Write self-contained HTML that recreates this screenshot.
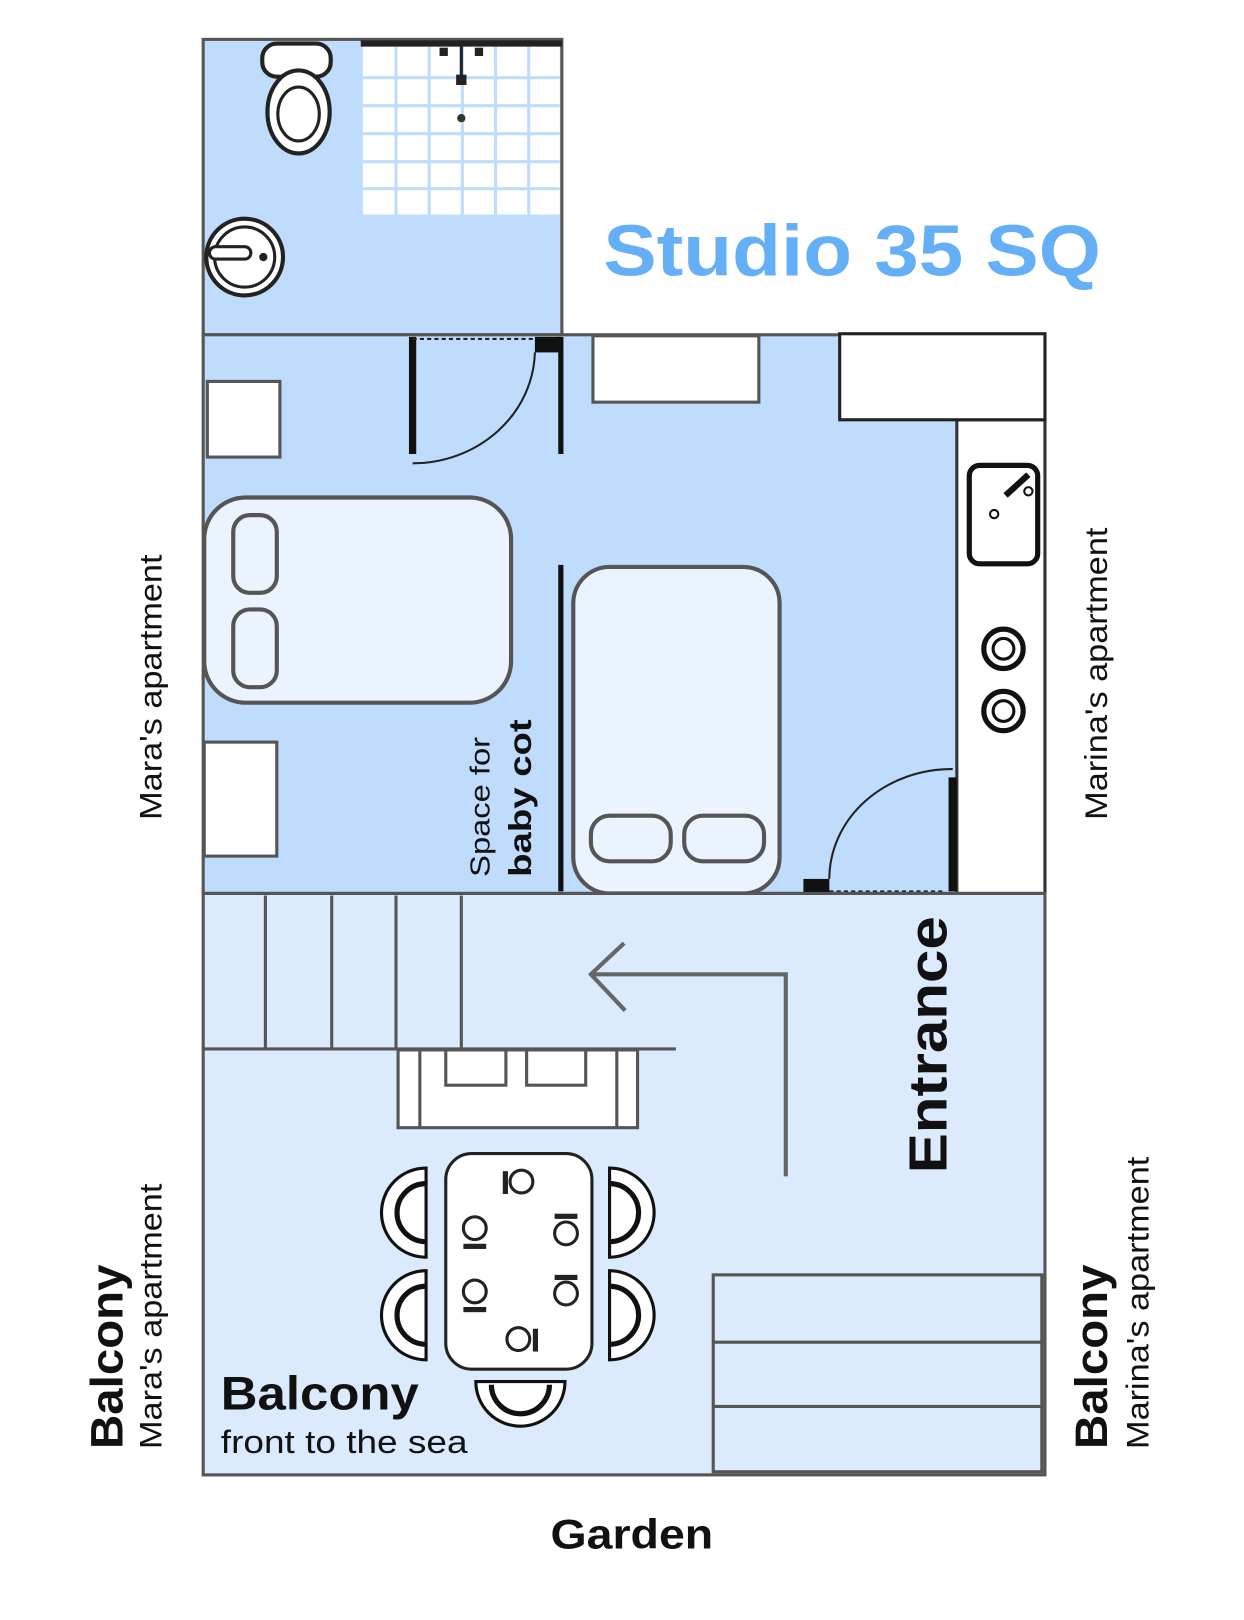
<!DOCTYPE html>
<html><head><meta charset="utf-8"><style>
html,body{margin:0;padding:0;background:#fff;}
svg{display:block;font-family:"Liberation Sans",Arial,sans-serif;}
</style></head><body>
<svg width="1244" height="1620" viewBox="0 0 1200 1563" preserveAspectRatio="none" xmlns="http://www.w3.org/2000/svg">
<rect width="1200" height="1563" fill="#fff"/>
<rect x="196" y="38" width="346" height="285" fill="#bfdcfc" stroke="#555" stroke-width="3"/>
<rect x="350" y="44" width="190" height="163" fill="#fff"/>
<g stroke="#bfdcfc" stroke-width="3">
<line x1="382" y1="44" x2="382" y2="207"/><line x1="414" y1="44" x2="414" y2="207"/><line x1="446" y1="44" x2="446" y2="207"/><line x1="478" y1="44" x2="478" y2="207"/><line x1="510" y1="44" x2="510" y2="207"/>
<line x1="350" y1="75" x2="540" y2="75"/><line x1="350" y1="102" x2="540" y2="102"/><line x1="350" y1="129" x2="540" y2="129"/><line x1="350" y1="156" x2="540" y2="156"/><line x1="350" y1="182" x2="540" y2="182"/>
</g>
<line x1="348" y1="42" x2="542" y2="42" stroke="#222" stroke-width="6"/>
<line x1="445" y1="44" x2="445" y2="78" stroke="#222" stroke-width="3"/>
<rect x="440" y="72" width="10" height="10" fill="#222"/><rect x="424" y="46" width="8" height="8" fill="#222"/><rect x="458" y="46" width="8" height="8" fill="#222"/>
<circle cx="445" cy="114" r="4" fill="#333"/>
<rect x="253" y="42" width="66" height="32" rx="14" fill="#fff" stroke="#222" stroke-width="4"/>
<ellipse cx="288" cy="108" rx="30" ry="40" fill="#fff" stroke="#222" stroke-width="4"/>
<ellipse cx="288" cy="110" rx="20" ry="26" fill="#fff" stroke="#222" stroke-width="3"/>
<circle cx="236" cy="248" r="37" fill="#fff" stroke="#222" stroke-width="4"/>
<circle cx="236" cy="248" r="29" fill="#fff" stroke="#222" stroke-width="3"/>
<rect x="202" y="238" width="40" height="12" rx="6" fill="#fff" stroke="#222" stroke-width="3"/>
<circle cx="254" cy="248" r="4" fill="#222"/>
<text x="582" y="266" font-size="70" font-weight="bold" fill="#64aff5" textLength="480" lengthAdjust="spacingAndGlyphs">Studio 35 SQ</text>
<rect x="196" y="323" width="812" height="539" fill="#bfdcfc" stroke="#555" stroke-width="3"/>
<rect x="923" y="405" width="85" height="457" fill="#fff" stroke="#333" stroke-width="3"/>
<rect x="810" y="322" width="198" height="83" fill="#fff" stroke="#222" stroke-width="3"/>
<rect x="572" y="324" width="160" height="64" fill="#fff" stroke="#555" stroke-width="3"/>
<rect x="200" y="368" width="70" height="73" fill="#fff" stroke="#555" stroke-width="3"/>
<rect x="197" y="716" width="70" height="110" fill="#fff" stroke="#555" stroke-width="3"/>
<rect x="197" y="480" width="296" height="198" rx="40" fill="#eaf3fe" stroke="#555" stroke-width="4"/>
<rect x="225" y="497" width="42" height="75" rx="16" fill="#eaf3fe" stroke="#555" stroke-width="4"/>
<rect x="225" y="588" width="42" height="75" rx="16" fill="#eaf3fe" stroke="#555" stroke-width="4"/>
<rect x="553" y="547" width="199" height="315" rx="35" fill="#eaf3fe" stroke="#555" stroke-width="4"/>
<rect x="570" y="787" width="77" height="44" rx="18" fill="#eaf3fe" stroke="#555" stroke-width="4"/>
<rect x="660" y="787" width="77" height="44" rx="18" fill="#eaf3fe" stroke="#555" stroke-width="4"/>
<line x1="541" y1="325" x2="541" y2="438" stroke="#111" stroke-width="5"/>
<line x1="541" y1="545" x2="541" y2="860" stroke="#111" stroke-width="5"/>
<line x1="398" y1="325" x2="398" y2="438" stroke="#111" stroke-width="7"/>
<rect x="516" y="325" width="25" height="15" fill="#111"/>
<line x1="398" y1="327" x2="516" y2="327" stroke="#222" stroke-width="2" stroke-dasharray="4,3"/>
<path d="M516 340 A118 110 0 0 1 398 447" fill="none" stroke="#222" stroke-width="2"/>
<line x1="919" y1="750" x2="919" y2="860" stroke="#111" stroke-width="8"/>
<rect x="775" y="848" width="25" height="14" fill="#111"/>
<line x1="800" y1="860" x2="912" y2="860" stroke="#222" stroke-width="2" stroke-dasharray="4,3"/>
<path d="M800 848 A118 106 0 0 1 919 742" fill="none" stroke="#222" stroke-width="2"/>
<rect x="935" y="449" width="66" height="95" rx="10" fill="#fff" stroke="#111" stroke-width="5"/>
<line x1="970" y1="478" x2="992" y2="458" stroke="#111" stroke-width="6"/>
<circle cx="992" cy="474" r="4" fill="#fff" stroke="#111" stroke-width="2"/>
<circle cx="959" cy="496" r="4" fill="#fff" stroke="#111" stroke-width="2"/>
<circle cx="968" cy="626" r="19" fill="#fff" stroke="#111" stroke-width="5"/>
<circle cx="968" cy="626" r="10" fill="#fff" stroke="#111" stroke-width="3"/>
<circle cx="968" cy="686" r="19" fill="#fff" stroke="#111" stroke-width="5"/>
<circle cx="968" cy="686" r="10" fill="#fff" stroke="#111" stroke-width="3"/>
<rect x="196" y="862" width="812" height="561" fill="#dceafd" stroke="#555" stroke-width="3"/>
<g stroke="#555" stroke-width="3">
<line x1="256" y1="864" x2="256" y2="1012"/><line x1="320" y1="864" x2="320" y2="1012"/><line x1="382" y1="864" x2="382" y2="1012"/><line x1="445" y1="864" x2="445" y2="1012"/>
<line x1="196" y1="1012" x2="652" y2="1012"/>
</g>
<rect x="384" y="1013" width="231" height="75" fill="#fff" stroke="#555" stroke-width="3"/>
<line x1="405" y1="1013" x2="405" y2="1088" stroke="#555" stroke-width="3"/>
<line x1="595" y1="1013" x2="595" y2="1088" stroke="#555" stroke-width="3"/>
<rect x="430" y="1013" width="58" height="34" fill="#fff" stroke="#555" stroke-width="3"/>
<rect x="508" y="1013" width="57" height="34" fill="#fff" stroke="#555" stroke-width="3"/>
<polyline points="758,1135 758,940 570,940" fill="none" stroke="#666" stroke-width="4"/>
<polyline points="602,910 570,940 603,975" fill="none" stroke="#666" stroke-width="4"/>
<text transform="translate(913,1132) rotate(-90)" font-size="52" font-weight="bold" fill="#111" textLength="248" lengthAdjust="spacingAndGlyphs">Entrance</text>
<rect x="430" y="1113" width="141" height="208" rx="25" fill="#fff" stroke="#222" stroke-width="3"/>
<g fill="#fff" stroke="#222" stroke-width="3">
<circle cx="503" cy="1140" r="11"/><circle cx="458" cy="1185" r="11"/><circle cx="458" cy="1246" r="11"/><circle cx="546" cy="1190" r="11"/><circle cx="546" cy="1248" r="11"/><circle cx="500" cy="1292" r="11"/>
</g>
<g fill="#222"><rect x="485" y="1130" width="5" height="22"/><rect x="447" y="1200" width="22" height="5"/><rect x="447" y="1261" width="22" height="5"/><rect x="535" y="1171" width="22" height="5"/><rect x="535" y="1230" width="22" height="5"/><rect x="514" y="1282" width="5" height="22"/></g>
<g fill="#fff" stroke="#111" stroke-width="3">
<path d="M411 1127 A43 43 0 0 0 411 1213 Z"/>
<path d="M411 1226 A43 43 0 0 0 411 1312 Z"/>
<path d="M588 1127 A43 43 0 0 1 588 1213 Z"/>
<path d="M588 1226 A43 43 0 0 1 588 1312 Z"/>
<path d="M459 1333 A43 43 0 0 0 545 1333 Z"/>
</g>
<g fill="none" stroke="#111" stroke-width="5">
<path d="M411 1142 A28 28 0 0 0 411 1198"/><path d="M411 1241 A28 28 0 0 0 411 1297"/>
<path d="M588 1142 A28 28 0 0 1 588 1198"/><path d="M588 1241 A28 28 0 0 1 588 1297"/>
<path d="M474 1336 A28 28 0 0 0 530 1336"/>
</g>
<rect x="688" y="1230" width="317" height="190" fill="#dceafd" stroke="#555" stroke-width="3"/>
<line x1="688" y1="1295" x2="1005" y2="1295" stroke="#555" stroke-width="3"/>
<line x1="688" y1="1357" x2="1005" y2="1357" stroke="#555" stroke-width="3"/>
<text x="213" y="1360" font-size="46" font-weight="bold" fill="#111" textLength="191" lengthAdjust="spacingAndGlyphs">Balcony</text>
<text x="213" y="1402" font-size="31" fill="#111" textLength="238" lengthAdjust="spacingAndGlyphs">front to the sea</text>
<text x="531" y="1494" font-size="40" font-weight="bold" fill="#111" textLength="157" lengthAdjust="spacingAndGlyphs">Garden</text>
<text transform="translate(472,846) rotate(-90)" font-size="27" fill="#111" textLength="135" lengthAdjust="spacingAndGlyphs">Space for</text>
<text transform="translate(512,846) rotate(-90)" font-size="30" font-weight="bold" fill="#111" textLength="152" lengthAdjust="spacingAndGlyphs">baby cot</text>
<text transform="translate(156,791) rotate(-90)" font-size="30" fill="#111" textLength="256" lengthAdjust="spacingAndGlyphs">Mara's apartment</text>
<text transform="translate(1068,791) rotate(-90)" font-size="30" fill="#111" textLength="282" lengthAdjust="spacingAndGlyphs">Marina's apartment</text>
<text transform="translate(118,1398) rotate(-90)" font-size="44" font-weight="bold" fill="#111" textLength="178" lengthAdjust="spacingAndGlyphs">Balcony</text>
<text transform="translate(156,1398) rotate(-90)" font-size="30" fill="#111" textLength="256" lengthAdjust="spacingAndGlyphs">Mara's apartment</text>
<text transform="translate(1068,1398) rotate(-90)" font-size="44" font-weight="bold" fill="#111" textLength="178" lengthAdjust="spacingAndGlyphs">Balcony</text>
<text transform="translate(1108,1398) rotate(-90)" font-size="30" fill="#111" textLength="282" lengthAdjust="spacingAndGlyphs">Marina's apartment</text>
</svg>
</body></html>
